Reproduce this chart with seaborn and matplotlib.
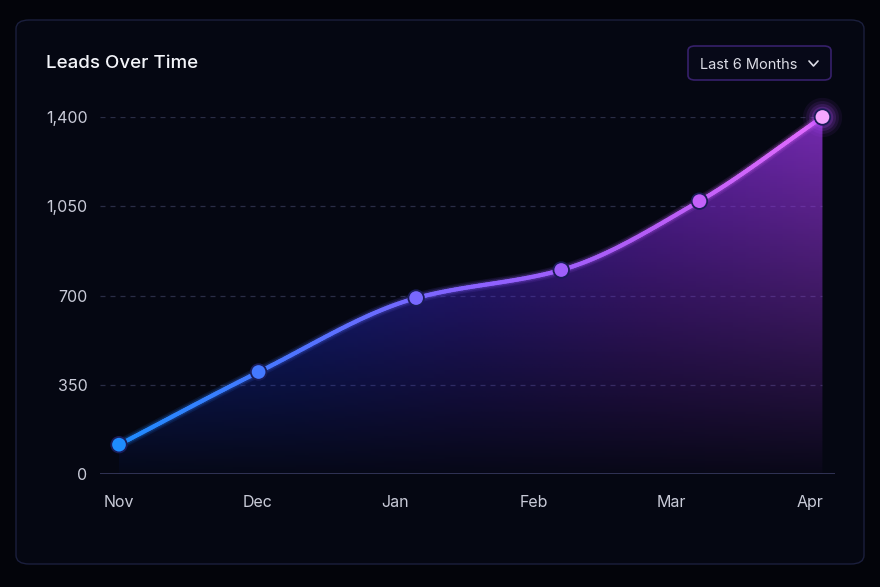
import numpy as np
import matplotlib
matplotlib.use("Agg")
import matplotlib.pyplot as plt
import seaborn as sns
from matplotlib.collections import LineCollection
from matplotlib.colors import LinearSegmentedColormap
from matplotlib.patches import FancyBboxPatch, Polygon
from matplotlib.lines import Line2D

# ── Data ───────────────────────────────────────────────────────────────────────

months = ["Nov", "Dec", "Jan", "Feb", "Mar", "Apr"]
# where each sample sits along the month axis (points drift right of the labels)
point_pos = [0.0, 1.01, 2.15, 3.2, 4.2, 5.09]
leads = [115, 400, 690, 800, 1070, 1400]
y_ticks = [0, 350, 700, 1050, 1400]

# ── Setup ──────────────────────────────────────────────────────────────────────

sns.set_theme(style="dark")
plt.rcParams["font.family"] = ["Inter", "DejaVu Sans"]

BG = "#03040a"
CARD = "#050712"
TEXT = "#c9cbd8"
line_cmap = LinearSegmentedColormap.from_list(
    "leads", ["#1e8cff", "#4f74ff", "#8a62ff", "#b45cf6", "#e46cff"])
fill_cmap = LinearSegmentedColormap.from_list(
    "fill", ["#1644ff", "#2236f0", "#4a28dc", "#7a28d8", "#9a36e4"])

fig = plt.figure(figsize=(8.8, 5.87), dpi=100, facecolor=BG)

card = FancyBboxPatch((16 / 880, 1 - 564 / 587), 848 / 880, 544 / 587,
                      boxstyle="round,pad=0,rounding_size=0.015",
                      transform=fig.transFigure, facecolor=CARD,
                      edgecolor="#1b1f3d", linewidth=1.0, zorder=-5)
fig.patches.append(card)

ax = fig.add_axes([100 / 880, 1 - 474 / 587, 735 / 880, 357 / 587])
ax.set_facecolor("none")
x_left, x_right = -19 / 138.2, 5 + 25 / 138.2

# ── Smooth curve through the points (monotone cubic) ──────────────────────────

def monotone_curve(xs, ys, n=60):
    xs, ys = np.asarray(xs, float), np.asarray(ys, float)
    h = np.diff(xs)
    d = np.diff(ys) / h
    m = np.zeros_like(ys)
    m[0], m[-1] = d[0], d[-1]
    for i in range(1, len(xs) - 1):
        if d[i - 1] * d[i] > 0:
            w1, w2 = 2 * h[i] + h[i - 1], h[i] + 2 * h[i - 1]
            m[i] = (w1 + w2) / (w1 / d[i - 1] + w2 / d[i])
    cx, cy = [], []
    for i in range(len(xs) - 1):
        t = np.linspace(0, 1, n, endpoint=False)
        h00 = 2 * t**3 - 3 * t**2 + 1
        h10 = t**3 - 2 * t**2 + t
        h01 = -2 * t**3 + 3 * t**2
        h11 = t**3 - t**2
        cx.append(xs[i] + t * h[i])
        cy.append(h00 * ys[i] + h10 * h[i] * m[i] + h01 * ys[i + 1] + h11 * h[i] * m[i + 1])
    cx.append([xs[-1]])
    cy.append([ys[-1]])
    return np.concatenate(cx), np.concatenate(cy)

cx, cy = monotone_curve(point_pos, leads)
x0, x1 = point_pos[0], point_pos[-1]

# ── Gradient area fill ─────────────────────────────────────────────────────────

nx, ny = 300, 200
frac = np.linspace(0, 1, nx)
cols = np.array([fill_cmap(f)[:3] for f in frac])
img = np.zeros((ny, nx, 4))
img[..., :3] = cols[None, :, :]
vert = np.linspace(1, 0, ny)[:, None]           # top -> bottom
img[..., 3] = 0.03 + 0.72 * vert**1.0
im = ax.imshow(img, extent=[x0, x1, 0, 1400], origin="upper",
               aspect="auto", interpolation="bilinear", zorder=1)
poly = Polygon(np.column_stack([np.r_[cx, x1, x0], np.r_[cy, 0, 0]]),
               closed=True, transform=ax.transData, facecolor="none", edgecolor="none")
ax.add_patch(poly)
im.set_clip_path(poly)

# ── Grid and baseline ──────────────────────────────────────────────────────────

for yv in y_ticks[1:]:
    ax.plot([x_left, x1], [yv, yv], color="#2a2d46", linewidth=0.9,
            linestyle=(0, (4, 4)), zorder=0.5)
ax.plot([x_left, x_right], [0, 0], color="#34365a", linewidth=1.3, zorder=2)

# ── Gradient line with faint glow ──────────────────────────────────────────────

pts = np.column_stack([cx, cy]).reshape(-1, 1, 2)
segs = np.concatenate([pts[:-1], pts[1:]], axis=1)
seg_col = line_cmap((cx[:-1] - x0) / (x1 - x0))
for lw, a in [(8, 0.04), (5.5, 0.07)]:
    glow = seg_col.copy()
    glow[:, 3] = a
    ax.add_collection(LineCollection(segs, colors=glow, linewidth=lw,
                                     capstyle="round", zorder=3))
ax.add_collection(LineCollection(segs, colors=seg_col, linewidth=3.0,
                                 capstyle="round", zorder=4))

# ── Markers ────────────────────────────────────────────────────────────────────

marker_cols = [line_cmap((p - x0) / (x1 - x0)) for p in point_pos]
marker_cols[-1] = "#f4a6ff"
# halo on the latest month
for s, a in [(800, 0.07), (560, 0.10), (380, 0.14), (240, 0.2)]:
    ax.scatter([point_pos[-1]], [leads[-1]], s=s, color="#b44cff", alpha=a,
               linewidths=0, zorder=5, clip_on=False)
sns.scatterplot(x=point_pos, y=leads, hue=months, palette=marker_cols,
                s=125, edgecolor="#1a1c58", linewidth=1.3, legend=False,
                zorder=6, ax=ax, clip_on=False)

# ── Axes styling ───────────────────────────────────────────────────────────────

ax.set_xlim(x_left, x_right)
ax.set_ylim(0, 1400)
ax.set_xticks(range(len(months)))
ax.set_xticklabels(months)
ax.set_yticks(y_ticks)
ax.set_yticklabels([f"{v:,}" for v in y_ticks])
ax.tick_params(axis="x", colors=TEXT, labelsize=11.5, length=0, pad=15)
ax.tick_params(axis="y", colors=TEXT, labelsize=11.5, length=0, pad=9)
for lab in ax.get_yticklabels() + ax.get_xticklabels():
    lab.set_color(TEXT)
for sp in ax.spines.values():
    sp.set_visible(False)
ax.grid(False)
ax.set_xlabel("")
ax.set_ylabel("")

# ── Title and dropdown ─────────────────────────────────────────────────────────

fig.text(46 / 880, 1 - 62 / 587, "Leads Over Time", color="#f4f5fa",
         fontsize=13.5, fontweight="medium", va="center_baseline", ha="left")

dd = FancyBboxPatch((688 / 880, 1 - 80 / 587), 143 / 880, 34 / 587,
                    boxstyle="round,pad=0,rounding_size=0.008",
                    transform=fig.transFigure, facecolor="#070918",
                    edgecolor="#36206a", linewidth=1.2)
fig.patches.append(dd)
fig.text(700 / 880, 1 - 63.5 / 587, "Last 6 Months", color="#dcdde6",
         fontsize=10.5, va="center_baseline", ha="left")
fig.add_artist(Line2D([809 / 880, 813.5 / 880, 818 / 880],
                      [1 - 61 / 587, 1 - 66 / 587, 1 - 61 / 587],
                      transform=fig.transFigure, color="#dcdde6",
                      linewidth=1.2, solid_capstyle="round"))

fig.savefig("out.png", dpi=100, facecolor=BG)
